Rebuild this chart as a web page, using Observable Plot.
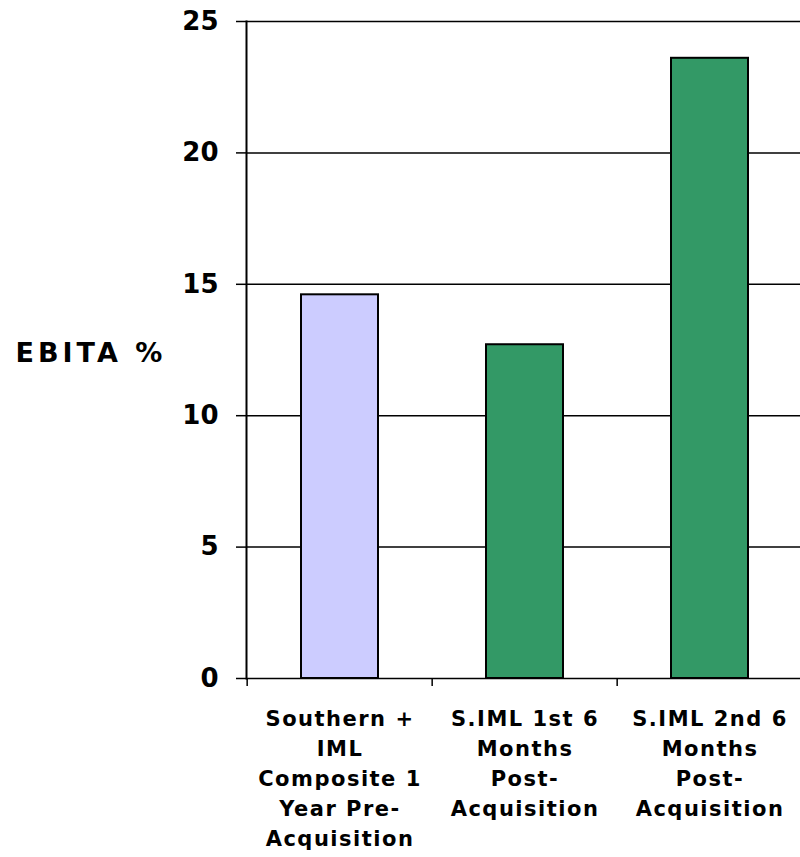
<!DOCTYPE html>
<html><head><meta charset="utf-8">
<script src="https://cdn.jsdelivr.net/npm/d3@7"></script>
<script src="https://cdn.jsdelivr.net/npm/@observablehq/plot@0.6"></script>
<style>
html,body{margin:0;padding:0;background:#fff;overflow:hidden;}
#chart svg{display:block;}
.xlab text{letter-spacing:1.5px;}
.ylab text{letter-spacing:4px;}
</style></head><body><div id="chart"></div>
<script>
const categories = ["Southern + IML Composite 1 Year Pre-Acquisition", "S.IML 1st 6 Months Post-Acquisition", "S.IML 2nd 6 Months Post-Acquisition"];
const categoryLabels = ["Southern +\nIML\nComposite 1\nYear Pre-\nAcquisition", "S.IML 1st 6\nMonths\nPost-\nAcquisition", "S.IML 2nd 6\nMonths\nPost-\nAcquisition"];
const ebitaValues = [14.6, 12.7, 23.6];
const barColors = ["#CCCCFF", "#339966", "#339966"];
const yTicks = [0, 5, 10, 15, 20, 25];
const gridValues = [5, 10, 15, 20, 25];
const yLabel = "EBITA %";

const data = categories.map((c, i) => ({category: c, value: ebitaValues[i], label: categoryLabels[i], color: barColors[i]}));

const xRange = [246, 803];
const bw = (xRange[1] - xRange[0]) / categories.length;
const font = "'DejaVu Sans', Verdana, sans-serif";

const chart = Plot.plot({
  width: 800,
  height: 857,
  marginLeft: 246,
  marginRight: 0,
  marginTop: 21,
  marginBottom: 179,
  style: {fontFamily: font, background: "#fff", color: "#000", overflow: "hidden"},
  x: {domain: categories, range: xRange, padding: 0, axis: null},
  y: {domain: [0, 25], label: null},
  color: {type: "identity"},
  marks: [
    Plot.ruleY(gridValues, {stroke: "#000", strokeWidth: 1.5}),
    Plot.barY(data, {x: "category", y: "value", fill: "color", stroke: "#000", strokeWidth: 2, insetLeft: 54, insetRight: 54}),
    Plot.ruleY([0], {stroke: "#000", strokeWidth: 1.5}),
    Plot.frame({anchor: "left", stroke: "#000", strokeWidth: 2}),
    Plot.ruleX(categories, {x: d => d, y1: 0, y2: -0.3, dx: -bw / 2, stroke: "#000", strokeWidth: 1.5}),
    Plot.axisY({ticks: yTicks, tickSize: 10, tickPadding: 18, fontSize: 26, fontWeight: "bold", stroke: "#000", strokeWidth: 1.5, label: null}),
    Plot.text(data, {x: "category", y: 0, text: "label", lineAnchor: "top", dy: 26, fontSize: 21, fontWeight: "bold", lineHeight: 30 / 21, fill: "#000", className: "xlab"}),
    Plot.text([yLabel], {frameAnchor: "left", dx: -231, dy: 3, textAnchor: "start", fontSize: 27, fontWeight: "bold", fill: "#000", className: "ylab"})
  ]
});
document.getElementById("chart").appendChild(chart);
</script>
</body></html>
